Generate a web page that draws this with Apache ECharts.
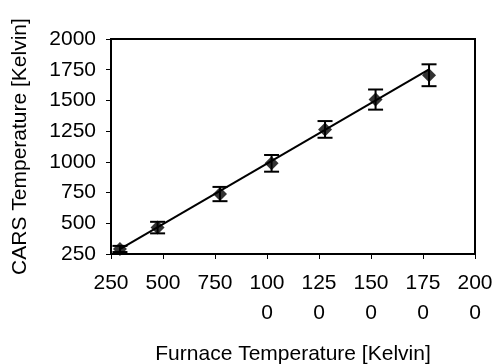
<!DOCTYPE html>
<html>
<head>
<meta charset="utf-8">
<script src="https://cdn.jsdelivr.net/npm/echarts@6/dist/echarts.min.js"></script>
<style>
  html, body { margin: 0; padding: 0; background: #fff; }
  #chart { width: 495px; height: 364px; }
</style>
</head>
<body>
<div id="chart"></div>
<script>
// measured points (Kelvin)
var furnaceTemp = [293, 474, 774, 1022, 1279, 1522, 1779];
var carsTemp = [291, 465, 738, 988, 1264, 1507, 1705];
var carsError = [25, 47, 58, 68, 68, 82, 89];
// linear fit line end points
var fitX = [293, 1779];
var fitY = [290, 1752];

var font = 'Liberation Sans, Arial, sans-serif';

var points = furnaceTemp.map(function (x, i) { return [x, carsTemp[i]]; });
var bars = furnaceTemp.map(function (x, i) {
  return [x, carsTemp[i] - carsError[i], carsTemp[i] + carsError[i]];
});
var fit = fitX.map(function (x, i) { return [x, fitY[i]]; });

var chart = echarts.init(document.getElementById('chart'));
chart.setOption({
  animation: false,
  grid: {
    left: 111, right: 20, top: 39, bottom: 110, outerBoundsMode: 'none',
    show: true, borderColor: '#000', borderWidth: 2, backgroundColor: '#fff'
  },
  xAxis: {
    type: 'value', min: 250, max: 2000, interval: 250,
    name: 'Furnace Temperature [Kelvin]', nameLocation: 'middle', nameGap: 90,
    nameTextStyle: { fontFamily: font, fontSize: 21, color: '#000' },
    axisLine: { show: true, lineStyle: { color: '#000', width: 2 } },
    axisTick: { show: true, length: 5, lineStyle: { color: '#000' } },
    splitLine: { show: false },
    axisLabel: {
      margin: 14, fontFamily: font, fontSize: 21, color: '#000', lineHeight: 30,
      formatter: function (v) {
        var s = String(v);
        return s.length > 3 ? s.slice(0, 3) + '\n' + s.slice(3) : s;
      }
    }
  },
  yAxis: {
    type: 'value', min: 250, max: 2000, interval: 250,
    name: 'CARS Temperature [Kelvin]', nameLocation: 'middle', nameGap: 80,
    nameTextStyle: { fontFamily: font, fontSize: 21, color: '#000' },
    axisLine: { show: true, lineStyle: { color: '#000', width: 2 } },
    axisTick: { show: true, length: 5, lineStyle: { color: '#000' } },
    splitLine: { show: false },
    axisLabel: {
      margin: 15, fontFamily: font, fontSize: 21, color: '#000',
      formatter: function (v) { return String(v); }
    }
  },
  series: [
    {
      type: 'line', data: fit, showSymbol: false, symbol: 'none',
      lineStyle: { color: '#000', width: 2 }, z: 2
    },
    {
      type: 'custom', data: bars, z: 3,
      renderItem: function (params, api) {
        var x = api.value(0);
        var lo = api.coord([x, api.value(1)]);
        var hi = api.coord([x, api.value(2)]);
        var w = 7.5;
        var st = { stroke: '#000', lineWidth: 2 };
        return {
          type: 'group',
          children: [
            { type: 'line', shape: { x1: lo[0], y1: lo[1], x2: hi[0], y2: hi[1] }, style: st },
            { type: 'line', shape: { x1: lo[0] - w, y1: lo[1], x2: lo[0] + w, y2: lo[1] }, style: st },
            { type: 'line', shape: { x1: hi[0] - w, y1: hi[1], x2: hi[0] + w, y2: hi[1] }, style: st }
          ]
        };
      }
    },
    {
      type: 'scatter', data: points, symbol: 'diamond', symbolSize: 14,
      itemStyle: { color: '#000' }, z: 4
    }
  ]
});
</script>
</body>
</html>
